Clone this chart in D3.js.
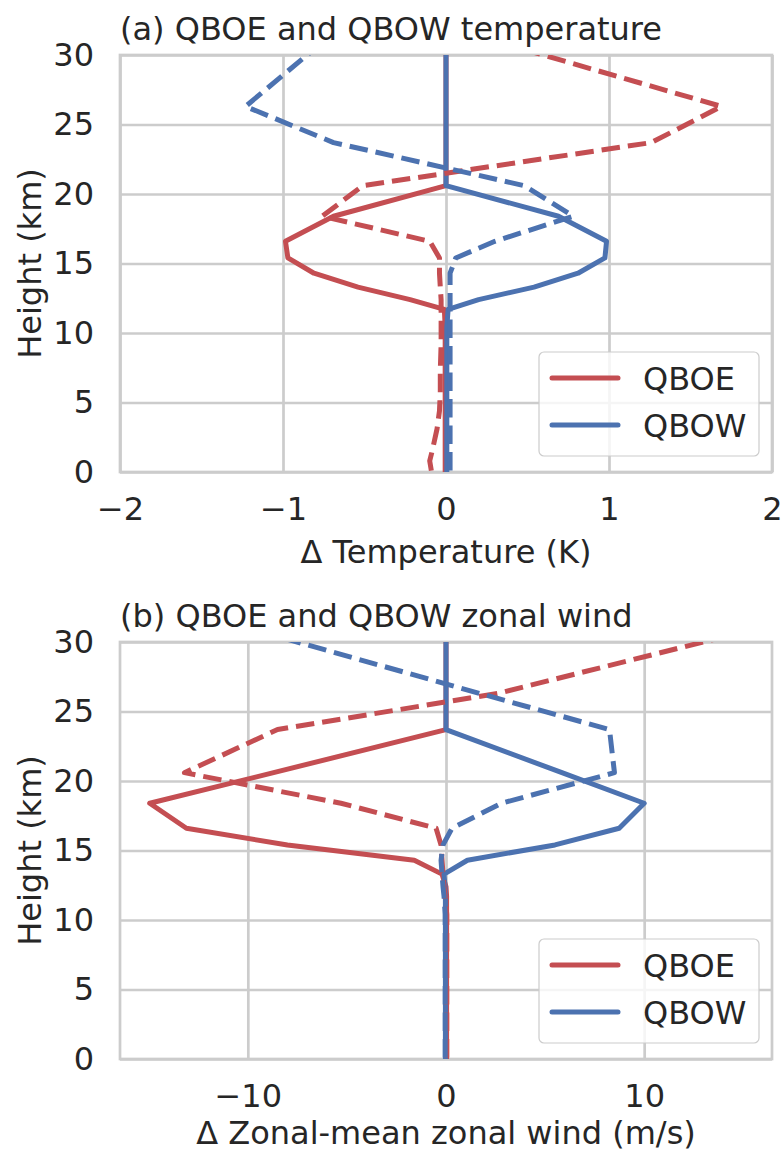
<!DOCTYPE html>
<html>
<head>
<meta charset="utf-8">
<script src="https://cdn.jsdelivr.net/npm/d3@7"></script>
<style>
  html, body { margin: 0; padding: 0; background: #ffffff; }
  svg { display: block; }
</style>
</head>
<body>
<svg id="chart" width="782" height="1152"></svg>
<script>
// Height levels (km) shared by every profile
const heights = [0.1, 0.8, 1.5, 3.1, 4.4, 5.8, 7.3, 9.2, 10.4, 11.7, 12.4, 13.3, 14.3, 15.4, 16.6, 18.4, 20.6, 23.7, 26.3, 31.0];

// (a) temperature anomalies (K)
const tempQBOE      = [-0.005, -0.005, -0.005, -0.005, -0.005, -0.005, -0.005, -0.005, -0.005, -0.01, -0.22, -0.54, -0.81, -0.97, -0.985, -0.69, 0, 0, 0, 0];
const tempQBOW      = [0.005, 0.005, 0.005, 0.005, 0.005, 0.005, 0.005, 0.005, 0.005, 0.013, 0.2, 0.54, 0.81, 0.975, 0.985, 0.69, 0, 0, 0, 0];
const tempQBOEDash  = [-0.09, -0.1, -0.085, -0.055, -0.04, -0.035, -0.035, -0.03, -0.03, -0.03, -0.03, -0.035, -0.04, -0.04, -0.1, -0.76, -0.51, 1.26, 1.69, 0.30];
const tempQBOWDash  = [0.025, 0.025, 0.025, 0.025, 0.025, 0.025, 0.025, 0.025, 0.025, 0.025, 0.025, 0.025, 0.025, 0.06, 0.3, 0.78, 0.48, -0.69, -1.23, -0.75];

// (b) zonal-mean zonal wind anomalies (m/s)
const windQBOE      = [0.03, 0.03, 0.03, 0.03, 0.03, 0.03, 0.03, 0.03, 0.03, 0.03, 0.0, -0.2, -1.6, -8.0, -13.1, -14.95, -8.7, 0, 0, 0];
const windQBOW      = [-0.03, -0.03, -0.03, -0.03, -0.03, -0.03, -0.03, -0.03, -0.03, -0.03, -0.05, -0.1, 1.08, 5.5, 8.74, 10.0, 5.85, 0, 0, 0];
const windQBOEDash  = [0.04, 0.04, 0.04, 0.04, 0.04, 0.04, 0.04, 0.04, 0.04, -0.05, -0.1, -0.15, -0.2, -0.25, -0.5, -5.3, -13.2, -8.5, 2.6, 15.8];
const windQBOWDash  = [-0.04, -0.04, -0.04, -0.04, -0.04, -0.04, -0.04, -0.04, -0.04, -0.1, -0.15, -0.2, -0.25, -0.15, 0.3, 2.8, 8.5, 8.25, 1.7, -10.0];

// Axis ticks
const tempTicks = [-2, -1, 0, 1, 2];
const windTicks = [-10, 0, 10];
const heightTicks = [0, 5, 10, 15, 20, 25, 30];
const legendLabels = ["QBOE", "QBOW"];

const RED = "#c44e52", BLUE = "#4c72b0";
const TEXT = "#262626", GRID = "#cccccc";
const FONT = "'DejaVu Sans', sans-serif";
const FS = 32;
const LW = 5;
const DASH = `${(3.7 * LW).toFixed(1)},${(1.6 * LW).toFixed(1)}`;

const svg = d3.select("#chart");

function panel(cfg) {
  const left = 120, right = 772;
  const { top, bottom } = cfg;
  const x = d3.scaleLinear().domain(cfg.xDomain).range([left, right]);
  const y = d3.scaleLinear().domain([0, 30]).range([bottom, top]);
  const g = svg.append("g");

  g.append("clipPath").attr("id", cfg.id + "-clip")
    .append("rect").attr("x", left).attr("y", top)
    .attr("width", right - left).attr("height", bottom - top);

  // vertical grid + x tick labels
  const xAxis = g.append("g").attr("transform", `translate(0,${bottom})`)
    .call(d3.axisBottom(x).tickValues(cfg.xTicks).tickFormat(d3.format("d"))
      .tickSize(-(bottom - top)).tickPadding(25));
  // horizontal grid + y tick labels
  const yAxis = g.append("g").attr("transform", `translate(${left},0)`)
    .call(d3.axisLeft(y).tickValues(heightTicks).tickFormat(d3.format("d"))
      .tickSize(-(right - left)).tickPadding(26));

  [xAxis, yAxis].forEach(a => {
    a.select(".domain").remove();
    a.selectAll(".tick line").attr("stroke", GRID).attr("stroke-width", 2.7);
    a.selectAll(".tick text").attr("fill", TEXT)
      .attr("font-family", FONT).attr("font-size", FS);
    a.attr("font-family", null).attr("font-size", null);
  });

  // frame
  g.append("rect").attr("x", left).attr("y", top)
    .attr("width", right - left).attr("height", bottom - top)
    .attr("fill", "none").attr("stroke", GRID).attr("stroke-width", 2.7);

  const line = d3.line().x(d => x(d[0])).y(d => y(d[1]));
  const plot = g.append("g").attr("clip-path", `url(#${cfg.id}-clip)`);
  cfg.series.forEach(s => {
    plot.append("path")
      .attr("d", line(s.values.map((v, i) => [v, heights[i]])))
      .attr("fill", "none").attr("stroke", s.color)
      .attr("stroke-width", LW).attr("stroke-linejoin", "round")
      .attr("stroke-linecap", s.dashed ? "butt" : "square")
      .attr("stroke-dasharray", s.dashed ? DASH : null);
  });

  // title
  g.append("text").attr("x", left).attr("y", top - 15)
    .attr("font-family", FONT).attr("font-size", FS).attr("fill", TEXT)
    .text(cfg.title);
  // x label
  g.append("text").attr("x", (left + right) / 2).attr("y", bottom + cfg.labelGap)
    .attr("text-anchor", "middle")
    .attr("font-family", FONT).attr("font-size", FS).attr("fill", TEXT)
    .text(cfg.xLabel);
  // y label
  g.append("text")
    .attr("transform", `translate(41,${(top + bottom) / 2}) rotate(-90)`)
    .attr("text-anchor", "middle")
    .attr("font-family", FONT).attr("font-size", FS).attr("fill", TEXT)
    .text("Height (km)");

  // legend
  const lx = 539, lw = 220, lh = 104, ly = bottom - 16 - lh;
  const leg = g.append("g");
  leg.append("rect").attr("x", lx).attr("y", ly).attr("width", lw).attr("height", lh)
    .attr("rx", 5).attr("fill", "#ffffff").attr("fill-opacity", 0.8)
    .attr("stroke", GRID).attr("stroke-width", 1.2);
  [RED, BLUE].forEach((c, i) => {
    const yy = ly + 26 + i * 47;
    leg.append("line").attr("x1", lx + 13).attr("x2", lx + 79)
      .attr("y1", yy).attr("y2", yy).attr("stroke", c)
      .attr("stroke-width", LW).attr("stroke-linecap", "round");
    leg.append("text").attr("x", lx + 104).attr("y", yy)
      .attr("dy", "0.36em")
      .attr("font-family", FONT).attr("font-size", FS).attr("fill", TEXT)
      .text(legendLabels[i]);
  });
}

panel({
  id: "temp", top: 55, bottom: 472, xDomain: [-2, 2], xTicks: tempTicks, labelGap: 91,
  title: "(a) QBOE and QBOW temperature",
  xLabel: "\u0394 Temperature (K)",
  series: [
    { values: tempQBOE, color: RED, dashed: false },
    { values: tempQBOW, color: BLUE, dashed: false },
    { values: tempQBOEDash, color: RED, dashed: true },
    { values: tempQBOWDash, color: BLUE, dashed: true }
  ]
});

panel({
  id: "wind", top: 642, bottom: 1059, xDomain: [-16.45, 16.45], xTicks: windTicks, labelGap: 85,
  title: "(b) QBOE and QBOW zonal wind",
  xLabel: "\u0394 Zonal-mean zonal wind (m/s)",
  series: [
    { values: windQBOE, color: RED, dashed: false },
    { values: windQBOW, color: BLUE, dashed: false },
    { values: windQBOEDash, color: RED, dashed: true },
    { values: windQBOWDash, color: BLUE, dashed: true }
  ]
});
</script>
</body>
</html>
